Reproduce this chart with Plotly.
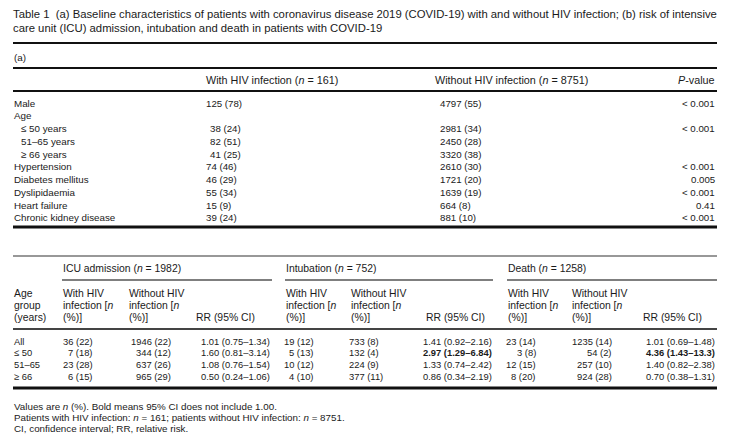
import plotly.graph_objects as go

# ---------------- data ----------------
title_lines = [
    "Table 1  (a) Baseline characteristics of patients with coronavirus disease 2019 (COVID-19) with and without HIV infection; (b) risk of intensive",
    "care unit (ICU) admission, intubation and death in patients with COVID-19",
]
a_labels = ["Male", "Age", "≤ 50 years", "51–65 years", "≥ 66 years", "Hypertension",
            "Diabetes mellitus", "Dyslipidaemia", "Heart failure", "Chronic kidney disease"]
a_indent = [0, 0, 1, 1, 1, 0, 0, 0, 0, 0]
a_with_n = [125, None, 38, 82, 41, 74, 46, 55, 15, 39]
a_with_pct = [78, None, 24, 51, 25, 46, 29, 34, 9, 24]
a_without_n = [4797, None, 2981, 2450, 3320, 2610, 1721, 1639, 664, 881]
a_without_pct = [55, None, 34, 28, 38, 30, 20, 19, 8, 10]
a_pvalues = ["< 0.001", "", "< 0.001", "", "", "< 0.001", "0.005", "< 0.001", "0.41", "< 0.001"]

b_age_groups = ["All", "≤ 50", "51–65", "≥ 66"]
icu_with_n = [36, 7, 23, 6]
icu_with_pct = [22, 18, 28, 15]
icu_without_n = [1946, 344, 637, 965]
icu_without_pct = [22, 12, 26, 29]
icu_rr = ["1.01 (0.75–1.34)", "1.60 (0.81–3.14)", "1.08 (0.76–1.54)", "0.50 (0.24–1.06)"]
intub_with_n = [19, 5, 10, 4]
intub_with_pct = [12, 13, 12, 10]
intub_without_n = [733, 132, 224, 377]
intub_without_pct = [8, 4, 9, 11]
intub_rr = ["1.41 (0.92–2.16)", "2.97 (1.29–6.84)", "1.33 (0.74–2.42)", "0.86 (0.34–2.19)"]
death_with_n = [23, 3, 12, 8]
death_with_pct = [14, 8, 15, 20]
death_without_n = [1235, 54, 257, 924]
death_without_pct = [14, 2, 10, 28]
death_rr = ["1.01 (0.69–1.48)", "4.36 (1.43–13.3)", "1.40 (0.82–2.38)", "0.70 (0.38–1.31)"]
intub_rr_bold = [False, True, False, False]
death_rr_bold = [False, True, False, False]

footnotes = [
    "Values are <i>n</i> (%). Bold means 95% CI does not include 1.00.",
    "Patients with HIV infection: <i>n</i> = 161; patients without HIV infection: <i>n</i> = 8751.",
    "CI, confidence interval; RR, relative risk.",
]

# ---------------- styling ----------------
FONT = "Liberation Sans, Arial, sans-serif"
TXT = "#1a1a1a"
FS_TITLE = 11.3
FS_LAB = 9.8
FS_HEAD_A = 10.8
FS_HEAD_B = 10.4
FS_DATA_A = 9.7
FS_DATA_B = 9.4
FS_FOOT = 9.8
X0, X1 = 13, 717
OFF = 8  # page body margin

fig = go.Figure()
fig.add_trace(go.Scatter(x=[OFF, 744], y=[OFF, 439], mode="markers", marker=dict(opacity=0),
                         hoverinfo="skip", showlegend=False))

ann = []


def text(x, y, s, anchor="left", size=FS_LAB, color=TXT):
    ann.append(dict(x=x, y=y, xref="x", yref="y", text=s, showarrow=False,
                    xanchor=anchor, yanchor="middle", borderpad=0,
                    font=dict(family=FONT, size=size, color=color)))


def rule(y, w, x0=X0, x1=X1, color="#111111"):
    fig.add_shape(type="line", xref="x", yref="y", x0=x0, x1=x1, y0=y, y1=y,
                  line=dict(color=color, width=w))


def np_(n, p):
    return f"{n} ({p})"


# title
text(X0 - 1, 14, title_lines[0], size=FS_TITLE)
text(X0 - 1, 28, title_lines[1], size=FS_TITLE)

# ---- part (a)
rule(43, 2)
text(X0, 57, "(a)")
rule(68, 2)
text(205, 80, "With HIV infection (<i>n</i> = 161)", size=FS_HEAD_A)
text(434, 80, "Without HIV infection (<i>n</i> = 8751)", size=FS_HEAD_A)
text(716, 80, "<i>P</i>-value", anchor="right", size=FS_HEAD_A)
rule(91, 2.2)

row_y0, row_dy = 103, 12.75
for i, lab in enumerate(a_labels):
    y = row_y0 + i * row_dy
    text(X0 + 7 * a_indent[i], y, lab)
    if a_with_n[i] is not None:
        text(205 + 4 * a_indent[i], y, np_(a_with_n[i], a_with_pct[i]), size=FS_DATA_A)
        text(439, y, np_(a_without_n[i], a_without_pct[i]), size=FS_DATA_A)
    if a_pvalues[i]:
        text(716, y, a_pvalues[i], anchor="right", size=FS_DATA_A)
rule(227, 2.8)

# ---- part (b)
rule(256, 1.2, color="#333333")
groups = [("ICU admission (<i>n</i> = 1982)", 62, 272, 128, 195),
          ("Intubation (<i>n</i> = 752)", 285, 493, 350, 425),
          ("Death (<i>n</i> = 1258)", 507, 717, 571, 642)]
hdr_y = [293, 305, 317]
for lab, gx0, gx1, wx, rrx in groups:
    text(gx0, 268, lab, size=FS_HEAD_B)
    rule(280, 1.6, x0=gx0, x1=gx1, color="#555555")
    for j, s in enumerate(["With HIV", "infection [<i>n</i>", "(%)]"]):
        text(gx0, hdr_y[j], s, size=FS_HEAD_B)
    for j, s in enumerate(["Without HIV", "infection [<i>n</i>", "(%)]"]):
        text(wx, hdr_y[j], s, size=FS_HEAD_B)
    text(rrx, hdr_y[2], "RR (95% CI)", size=FS_HEAD_B)
for j, s in enumerate(["Age", "group", "(years)"]):
    text(X0, hdr_y[j], s, size=FS_HEAD_B)
rule(329, 2, color="#444444")


def b(s, flag):
    return f"<b>{s}</b>" if flag else s


brow_y0, brow_dy = 341, 11.8
for i, g in enumerate(b_age_groups):
    y = brow_y0 + i * brow_dy
    text(X0, y, g, size=FS_DATA_B)
    text(94, y, np_(icu_with_n[i], icu_with_pct[i]), anchor="right", size=FS_DATA_B)
    text(172, y, np_(icu_without_n[i], icu_without_pct[i]), anchor="right", size=FS_DATA_B)
    text(271, y, icu_rr[i], anchor="right", size=FS_DATA_B)
    text(315, y, np_(intub_with_n[i], intub_with_pct[i]), anchor="right", size=FS_DATA_B)
    text(348, y, np_(intub_without_n[i], intub_without_pct[i]), size=FS_DATA_B)
    text(493, y, b(intub_rr[i], intub_rr_bold[i]), anchor="right", size=FS_DATA_B)
    text(537, y, np_(death_with_n[i], death_with_pct[i]), anchor="right", size=FS_DATA_B)
    text(613, y, np_(death_without_n[i], death_without_pct[i]), anchor="right", size=FS_DATA_B)
    text(716, y, b(death_rr[i], death_rr_bold[i]), anchor="right", size=FS_DATA_B)
rule(388, 2.8)

for k, s in enumerate(footnotes):
    text(X0, 406 + k * 11.3, s, size=FS_FOOT)

fig.update_layout(
    width=744 - OFF, height=439 - OFF, margin=dict(l=0, r=0, t=0, b=0),
    paper_bgcolor="white", plot_bgcolor="white",
    xaxis=dict(range=[OFF, 744], visible=False, fixedrange=True),
    yaxis=dict(range=[439, OFF], visible=False, fixedrange=True),
    annotations=ann, showlegend=False,
)
fig.write_html("out.html", config={"displayModeBar": False})
